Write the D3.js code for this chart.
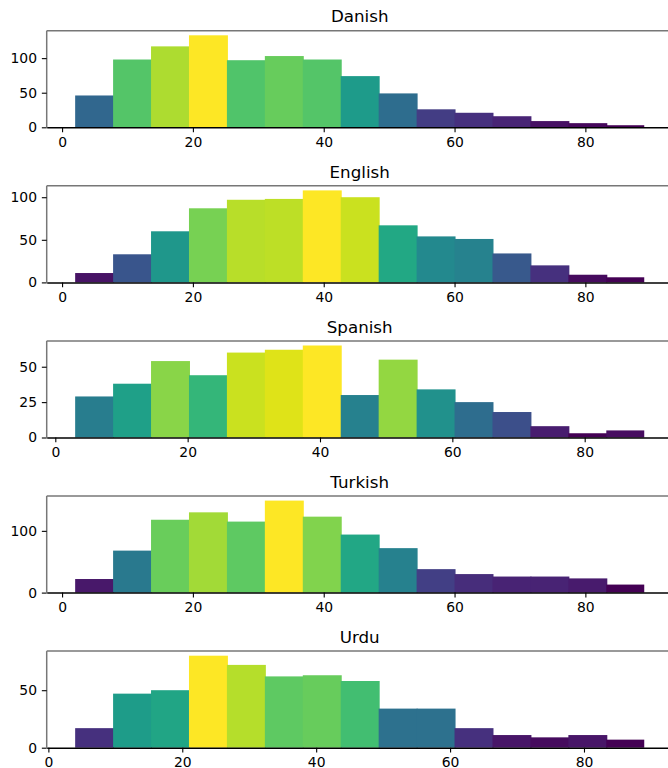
<!DOCTYPE html>
<html>
<head>
<meta charset="utf-8">
<script src="https://cdn.jsdelivr.net/npm/d3@7"></script>
<style>
  html, body { margin: 0; padding: 0; background: #fff; }
  svg { display: block; }
  text { font-family: "DejaVu Sans", sans-serif; fill: #000; }
</style>
</head>
<body>
<svg id="chart" width="668" height="768"></svg>
<script>
// ---- data ----
const languages = ["Danish", "English", "Spanish", "Turkish", "Urdu"];
const danishCounts  = [46, 98, 117, 133, 97, 103, 98, 74, 49, 26, 21, 16, 9, 6, 3];
const englishCounts = [11, 33, 60, 87, 97, 98, 108, 100, 67, 54, 51, 34, 20, 9, 6];
const spanishCounts = [29, 38, 54, 44, 60, 62, 65, 30, 55, 34, 25, 18, 8, 3, 5];
const turkishCounts = [22, 68, 118, 130, 115, 149, 123, 94, 72, 38, 30, 26, 26, 23, 13];
const urduCounts    = [17, 47, 50, 80, 72, 62, 63, 58, 34, 34, 17, 11, 9, 11, 7];
const ageMin = [2, 2, 3, 2, 4];
const ageMax = [89, 89, 89, 89, 89];
const xTickValues = [0, 20, 40, 60, 80];
const yTickValues = [[0, 50, 100], [0, 50, 100], [0, 25, 50], [0, 100], [0, 50]];

const series = [danishCounts, englishCounts, spanishCounts, turkishCounts, urduCounts];

// ---- layout ----
const svg = d3.select("#chart");
const axLeft = 46.7, axWidth = 626;
const firstTop = 30.7, step = 155.1, axHeight = 96.6;
const tickLen = 4.86, tickPad = 4.86;

languages.forEach((lang, i) => {
  const counts = series[i];
  const nBins = counts.length;
  const lo = ageMin[i], hi = ageMax[i];
  const binW = (hi - lo) / nBins;
  const bins = counts.map((c, k) => ({ x0: lo + k * binW, x1: lo + (k + 1) * binW, c, last: k === nBins - 1 }));
  const margin = 0.05 * (hi - lo);
  const top = firstTop + i * step;
  const bottom = top + axHeight;

  const x = d3.scaleLinear().domain([lo - margin, hi + margin]).range([axLeft, axLeft + axWidth]);
  const ymax = d3.max(counts);
  const y = d3.scaleLinear().domain([0, ymax * 1.05]).range([bottom, top]);
  const cmin = d3.min(counts), cmax = d3.max(counts);
  const color = c => d3.interpolateViridis((c - cmin) / (cmax - cmin));

  const g = svg.append("g");

  g.selectAll("rect.bar").data(bins).enter().append("rect")
    .attr("class", "bar")
    .attr("x", d => x(d.x0))
    .attr("width", d => x(d.x1) - x(d.x0) + (d.last ? 0 : 1))
    .attr("y", d => y(d.c))
    .attr("height", d => y(0) - y(d.c))
    .attr("fill", d => color(d.c));

  // spines: left & top gray
  g.append("line").attr("x1", axLeft).attr("x2", axLeft).attr("y1", top).attr("y2", bottom)
    .attr("stroke", "#777").attr("stroke-width", 1.5);
  g.append("line").attr("x1", axLeft).attr("x2", axLeft + axWidth).attr("y1", top).attr("y2", top)
    .attr("stroke", "#777").attr("stroke-width", 1.5);

  // x axis
  const xAxis = d3.axisBottom(x).tickValues(xTickValues).tickSize(tickLen).tickPadding(tickPad).tickSizeOuter(0);
  const gx = g.append("g").attr("transform", `translate(0,${bottom})`).call(xAxis);
  gx.select(".domain").attr("stroke", "#000").attr("stroke-width", 1.5);
  gx.selectAll(".tick line").attr("stroke", "#000").attr("stroke-width", 1.1);
  gx.selectAll(".tick text").attr("font-size", "13.9px").attr("font-family", "DejaVu Sans, sans-serif").attr("fill", "#000");

  // y axis
  const yAxis = d3.axisLeft(y).tickValues(yTickValues[i]).tickSize(tickLen).tickPadding(tickPad).tickSizeOuter(0);
  const gy = g.append("g").attr("transform", `translate(${axLeft},0)`).call(yAxis);
  gy.select(".domain").remove();
  gy.selectAll(".tick line").attr("stroke", "#000").attr("stroke-width", 1.1);
  gy.selectAll(".tick text").attr("font-size", "13.9px").attr("font-family", "DejaVu Sans, sans-serif").attr("fill", "#000");

  // title
  g.append("text")
    .attr("x", axLeft + axWidth / 2)
    .attr("y", top - 8.3)
    .attr("text-anchor", "middle")
    .attr("font-size", "16.7px")
    .text(lang);
});
</script>
</body>
</html>
